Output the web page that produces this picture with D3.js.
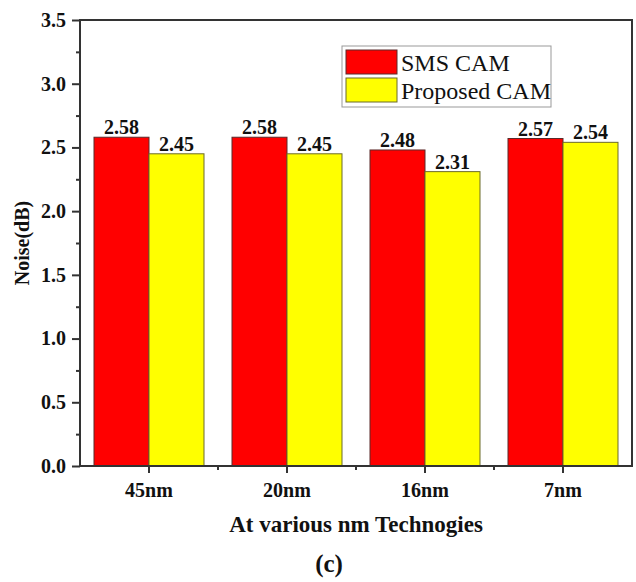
<!DOCTYPE html>
<html>
<head>
<meta charset="utf-8">
<script src="https://cdn.jsdelivr.net/npm/d3@7/dist/d3.min.js"></script>
<style>
  html, body { margin: 0; padding: 0; background: #fff; }
  svg { display: block; }
</style>
</head>
<body>
<svg id="chart" width="636" height="582"></svg>
<script>
// Noise comparison across process nodes
const categories = ["45nm", "20nm", "16nm", "7nm"];
const seriesNames = ["SMS CAM", "Proposed CAM"];
const smsCam = [2.58, 2.58, 2.48, 2.57];
const proposedCam = [2.45, 2.45, 2.31, 2.54];
const yTicks = [0.0, 0.5, 1.0, 1.5, 2.0, 2.5, 3.0, 3.5];
const yMinorTicks = [0.25, 0.75, 1.25, 1.75, 2.25, 2.75, 3.25];
const colors = ["#ff0000", "#ffff00"];
const strokes = ["#5a2a2a", "#6b6a2a"];

const FONT = "Liberation Serif";
const INK = "#111";

const svg = d3.select("#chart");
const plot = { left: 80, right: 632, top: 20, bottom: 466 };

const x = d3.scaleBand()
  .domain(categories)
  .range([plot.left, plot.right])
  .paddingInner(0.2029)
  .paddingOuter(0.10145);

const xInner = d3.scaleBand()
  .domain(seriesNames)
  .range([0, x.bandwidth()]);

const y = d3.scaleLinear()
  .domain([0, 3.5])
  .range([plot.bottom, plot.top]);

const series = [smsCam, proposedCam];

// bars
const groups = svg.append("g").selectAll("g")
  .data(categories)
  .join("g")
  .attr("transform", d => `translate(${x(d)},0)`);

const rows = (c, i) => series.map((s, k) => ({ name: seriesNames[k], value: s[i], k }));

groups.selectAll("rect")
  .data(rows)
  .join("rect")
  .attr("x", d => xInner(d.name))
  .attr("y", d => y(d.value))
  .attr("width", xInner.bandwidth())
  .attr("height", d => y(0) - y(d.value))
  .attr("fill", d => colors[d.k])
  .attr("stroke", d => strokes[d.k])
  .attr("stroke-width", 1);

// value labels
groups.selectAll("text.val")
  .data(rows)
  .join("text")
  .attr("class", "val")
  .attr("x", d => xInner(d.name) + xInner.bandwidth() / 2)
  .attr("y", d => y(d.value) - 3)
  .attr("text-anchor", "middle")
  .attr("font-family", FONT)
  .attr("fill", INK)
  .attr("font-size", 20)
  .attr("font-weight", "bold")
  .text(d => d.value.toFixed(2));

// frame
svg.append("rect")
  .attr("x", plot.left).attr("y", plot.top)
  .attr("width", plot.right - plot.left)
  .attr("height", plot.bottom - plot.top)
  .attr("fill", "none")
  .attr("stroke", "#333")
  .attr("stroke-width", 2);

// y axis
const yAxis = svg.append("g")
  .attr("transform", `translate(${plot.left},0)`)
  .call(d3.axisLeft(y).tickValues(yTicks).tickFormat(d3.format(".1f")).tickSize(8).tickPadding(6))
  .attr("font-family", FONT);
yAxis.select(".domain").remove();
yAxis.selectAll(".tick line").attr("stroke", "#333").attr("stroke-width", 2);
yAxis.selectAll(".tick text")
  .attr("font-size", 20).attr("font-weight", "bold")
  .attr("font-family", FONT).attr("fill", INK);

const yMinor = svg.append("g")
  .attr("transform", `translate(${plot.left},0)`)
  .call(d3.axisLeft(y).tickValues(yMinorTicks).tickFormat("").tickSize(4));
yMinor.select(".domain").remove();
yMinor.selectAll(".tick line").attr("stroke", "#333").attr("stroke-width", 2);

// x axis
const xAxis = svg.append("g")
  .attr("transform", `translate(0,${plot.bottom})`)
  .call(d3.axisBottom(x).tickSize(7).tickPadding(10))
  .attr("font-family", FONT);
xAxis.select(".domain").remove();
xAxis.selectAll(".tick line").attr("stroke", "#333").attr("stroke-width", 2);
xAxis.selectAll(".tick text")
  .attr("font-size", 20).attr("font-weight", "bold")
  .attr("font-family", FONT).attr("fill", INK);

// minor ticks at category boundaries
const boundaries = categories.slice(1).map(c => x(c) - x.step() * x.paddingInner() / 2);
svg.append("g").selectAll("line")
  .data(boundaries)
  .join("line")
  .attr("x1", d => d).attr("x2", d => d)
  .attr("y1", plot.bottom).attr("y2", plot.bottom + 4)
  .attr("stroke", "#333").attr("stroke-width", 2);

// axis titles
svg.append("text")
  .attr("x", (plot.left + plot.right) / 2)
  .attr("y", 532)
  .attr("text-anchor", "middle")
  .attr("font-family", FONT).attr("fill", INK)
  .attr("font-size", 23)
  .attr("font-weight", "bold")
  .text("At various nm Technogies");

svg.append("text")
  .attr("transform", `translate(29,${(plot.top + plot.bottom) / 2}) rotate(-90)`)
  .attr("text-anchor", "middle")
  .attr("font-family", FONT).attr("fill", INK)
  .attr("font-size", 20)
  .attr("font-weight", "bold")
  .text("Noise(dB)");

svg.append("text")
  .attr("x", 329)
  .attr("y", 572)
  .attr("text-anchor", "middle")
  .attr("font-family", FONT).attr("fill", INK)
  .attr("font-size", 25)
  .attr("font-weight", "bold")
  .text("(c)");

// legend
const legend = svg.append("g").attr("transform", "translate(342,46)");
legend.append("rect")
  .attr("width", 209).attr("height", 61)
  .attr("fill", "#fff").attr("stroke", "#999").attr("stroke-width", 1);
const items = legend.selectAll("g.item")
  .data(seriesNames)
  .join("g")
  .attr("class", "item")
  .attr("transform", (d, i) => `translate(4,${4 + i * 28})`);
items.append("rect")
  .attr("width", 51).attr("height", 24)
  .attr("fill", (d, i) => colors[i])
  .attr("stroke", (d, i) => strokes[i]).attr("stroke-width", 1);
items.append("text")
  .attr("x", 55).attr("y", 21)
  .attr("font-family", FONT).attr("fill", INK)
  .attr("font-size", 24)
  .text(d => d);
</script>
</body>
</html>
